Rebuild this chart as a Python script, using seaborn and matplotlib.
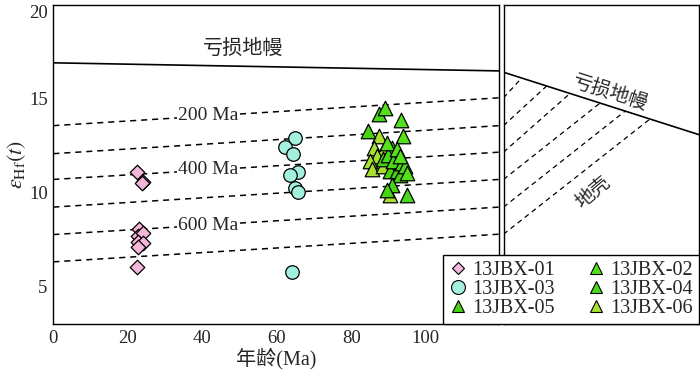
import numpy as np
import pandas as pd
import matplotlib
matplotlib.use("Agg")
import matplotlib.pyplot as plt
import seaborn as sns
from matplotlib.lines import Line2D

# ---------------- data ----------------
s01_age = [22.5, 24.1, 23.8, 23.0, 22.7, 24.1, 22.7, 24.1, 22.7, 22.5]
s01_ehf = [11.07, 10.59, 10.49, 8.05, 7.68, 7.84, 7.36, 7.31, 7.10, 6.04]

s03_age = [64.9, 62.2, 64.4, 65.7, 63.6, 64.9, 65.7, 64.1]
s03_ehf = [12.92, 12.44, 12.07, 11.07, 10.96, 10.22, 10.01, 5.78]

s02_age = [89.1, 93.4, 93.9, 89.6, 92.3, 93.1, 95.0]
s02_ehf = [14.51, 13.87, 13.03, 12.66, 12.34, 11.97, 11.02]

s04_age = [87.5, 90.9, 89.9, 91.2, 93.6, 94.4, 95.0]
s04_ehf = [14.19, 12.39, 12.02, 11.70, 11.60, 11.44, 9.85]

s05_age = [84.5, 88.5, 90.4, 92.3, 93.1, 90.9, 89.6]
s05_ehf = [13.29, 11.81, 11.17, 11.17, 10.91, 10.38, 10.12]

s06_age = [87.5, 86.1, 88.5, 86.9, 85.1, 85.6, 88.5, 90.4]
s06_ehf = [13.03, 12.39, 12.23, 11.97, 11.70, 11.28, 11.44, 9.85]

# depleted mantle line (main panel) at x = 0 and x = xmax
x_max = 119.7
dm_main_y = [16.90, 16.47]
# crustal evolution lines: values at x = 0 and x = xmax
crust_left = [13.56, 12.07, 10.70, 9.23, 7.77, 6.32]
crust_right = [15.04, 13.56, 12.15, 10.70, 9.23, 7.79]
crust_labels = ["200 Ma", None, "400 Ma", None, "600 Ma", None]

# right panel (x in 0..1)
dm_right_y = [16.40, 13.08]
crust_end_x = [0.093, 0.221, 0.340, 0.494, 0.622, 0.749]
crust_end_y = [16.09, 15.67, 15.27, 14.76, 14.33, 13.91]

samples = ["13JBX-01", "13JBX-03", "13JBX-05", "13JBX-02", "13JBX-04", "13JBX-06"]
series = {
    "13JBX-01": (s01_age, s01_ehf),
    "13JBX-02": (s02_age, s02_ehf),
    "13JBX-03": (s03_age, s03_ehf),
    "13JBX-04": (s04_age, s04_ehf),
    "13JBX-05": (s05_age, s05_ehf),
    "13JBX-06": (s06_age, s06_ehf),
}
colors = {
    "13JBX-01": "#f6b5da",
    "13JBX-03": "#a3f0df",
    "13JBX-02": "#55e01c",
    "13JBX-04": "#4cd81a",
    "13JBX-05": "#46d414",
    "13JBX-06": "#a8e032",
}
markers = {
    "13JBX-01": "D", "13JBX-03": "o", "13JBX-02": "^",
    "13JBX-04": "^", "13JBX-05": "^", "13JBX-06": "^",
}
sizes = {
    "13JBX-01": 55, "13JBX-03": 95, "13JBX-02": 110,
    "13JBX-04": 110, "13JBX-05": 110, "13JBX-06": 110,
}

rows = []
for name, (xs, ys) in series.items():
    for x, y in zip(xs, ys):
        rows.append({"sample": name, "age": x, "ehf": y})
df = pd.DataFrame(rows)

# ---------------- style ----------------
sns.set_style("white")
plt.rcParams["font.family"] = ["Liberation Serif", "Noto Sans CJK SC", "DejaVu Sans"]
plt.rcParams["mathtext.fontset"] = "stix"
plt.rcParams["axes.linewidth"] = 1.0

CJK = ["Noto Sans CJK SC", "DejaVu Sans"]
MIX = ["Liberation Serif", "Noto Sans CJK SC"]

fig = plt.figure(figsize=(7, 3.75), dpi=100)
top_px, bot_px = 4.5, 324.3
bottom = 1 - bot_px / 375
height = (bot_px - top_px) / 375
ax = fig.add_axes([53.3 / 700, bottom, (499 - 53.3) / 700, height])
ax2 = fig.add_axes([503.5 / 700, bottom, (699 - 503.5) / 700, height])

# ---- main panel ----
ax.plot([0, x_max], dm_main_y, color="black", lw=1.2, zorder=1)
for yl, yr, lab in zip(crust_left, crust_right, crust_labels):
    ax.plot([0, x_max], [yl, yr], color="black", lw=1.1, ls=(0, (4, 3.2)), zorder=1)
    if lab:
        xt = 41.5
        yt = yl + (yr - yl) * xt / x_max
        ax.text(xt, yt, lab, ha="center", va="center", fontsize=14,
                family="Liberation Serif",
                bbox=dict(facecolor="white", edgecolor="none", pad=0.5), zorder=2)

draw_order = ["13JBX-01", "13JBX-03", "13JBX-06", "13JBX-05", "13JBX-04", "13JBX-02"]
for name in draw_order:
    sub = df[df["sample"] == name]
    sns.scatterplot(data=sub, x="age", y="ehf", ax=ax, marker=markers[name],
                    s=sizes[name], color=colors[name], edgecolor="black",
                    linewidth=0.9, zorder=3, legend=False)

ax.text(51.0, 17.66, "亏损地幔", ha="center", va="center", fontsize=14.5, family=CJK)

ax.set_xlim(0, x_max)
ax.set_ylim(3, 20)
ax.set_xticks([0, 20, 40, 60, 80, 100])
ax.set_yticks([5, 10, 15, 20])
ax.tick_params(direction="in", length=7, width=1.1, labelsize=13.5,
               top=False, right=False, pad=4)
ax.yaxis.get_major_ticks()[-1].label1.set_verticalalignment("top")
ax.set_xlabel("年龄(Ma)", fontsize=14.5, family=MIX, labelpad=1)
ax.set_ylabel(r"$\varepsilon_{\mathrm{Hf}}(t)$", fontsize=16, labelpad=1)
for sp in ax.spines.values():
    sp.set_color("black")
    sp.set_linewidth(1.0)

# ---- right panel ----
ax2.plot([0, 1], dm_right_y, color="black", lw=1.2)
for ys, xe, ye in zip(crust_right, crust_end_x, crust_end_y):
    ax2.plot([0, xe], [ys, ye], color="black", lw=0.9, ls=(0, (4, 3.2)))
ax2.text(0.545, 15.30, "亏损地幔", ha="center", va="center", rotation=-17.8,
         fontsize=14, family=CJK)
ax2.text(0.458, 10.01, "地壳", ha="center", va="center", rotation=40,
         fontsize=14, family=CJK)
ax2.set_xlim(0, 1)
ax2.set_ylim(3, 20)
ax2.set_xticks([])
ax2.set_yticks([])
for sp in ax2.spines.values():
    sp.set_color("black")
    sp.set_linewidth(1.0)

# ---- legend ----
handles = []
for name in samples:
    ms = {"D": 6.5, "o": 10, "^": 9}[markers[name]]
    handles.append(Line2D([], [], ls="", marker=markers[name], markersize=ms,
                          markerfacecolor=colors[name], markeredgecolor="black",
                          markeredgewidth=0.8))
leg = fig.legend(handles, samples, ncol=2, loc="lower left", mode="expand",
                 bbox_to_anchor=(443 / 700, bottom, 256 / 700, 0.18),
                 frameon=True, fancybox=False,
                 edgecolor="black", framealpha=1, borderaxespad=0,
                 prop={"family": "Liberation Serif", "size": 14.5},
                 handletextpad=0.25, columnspacing=0.8, labelspacing=0.0,
                 borderpad=0.3, handlelength=0.9)
leg.get_frame().set_linewidth(1.0)

fig.savefig("out.png", dpi=100)
